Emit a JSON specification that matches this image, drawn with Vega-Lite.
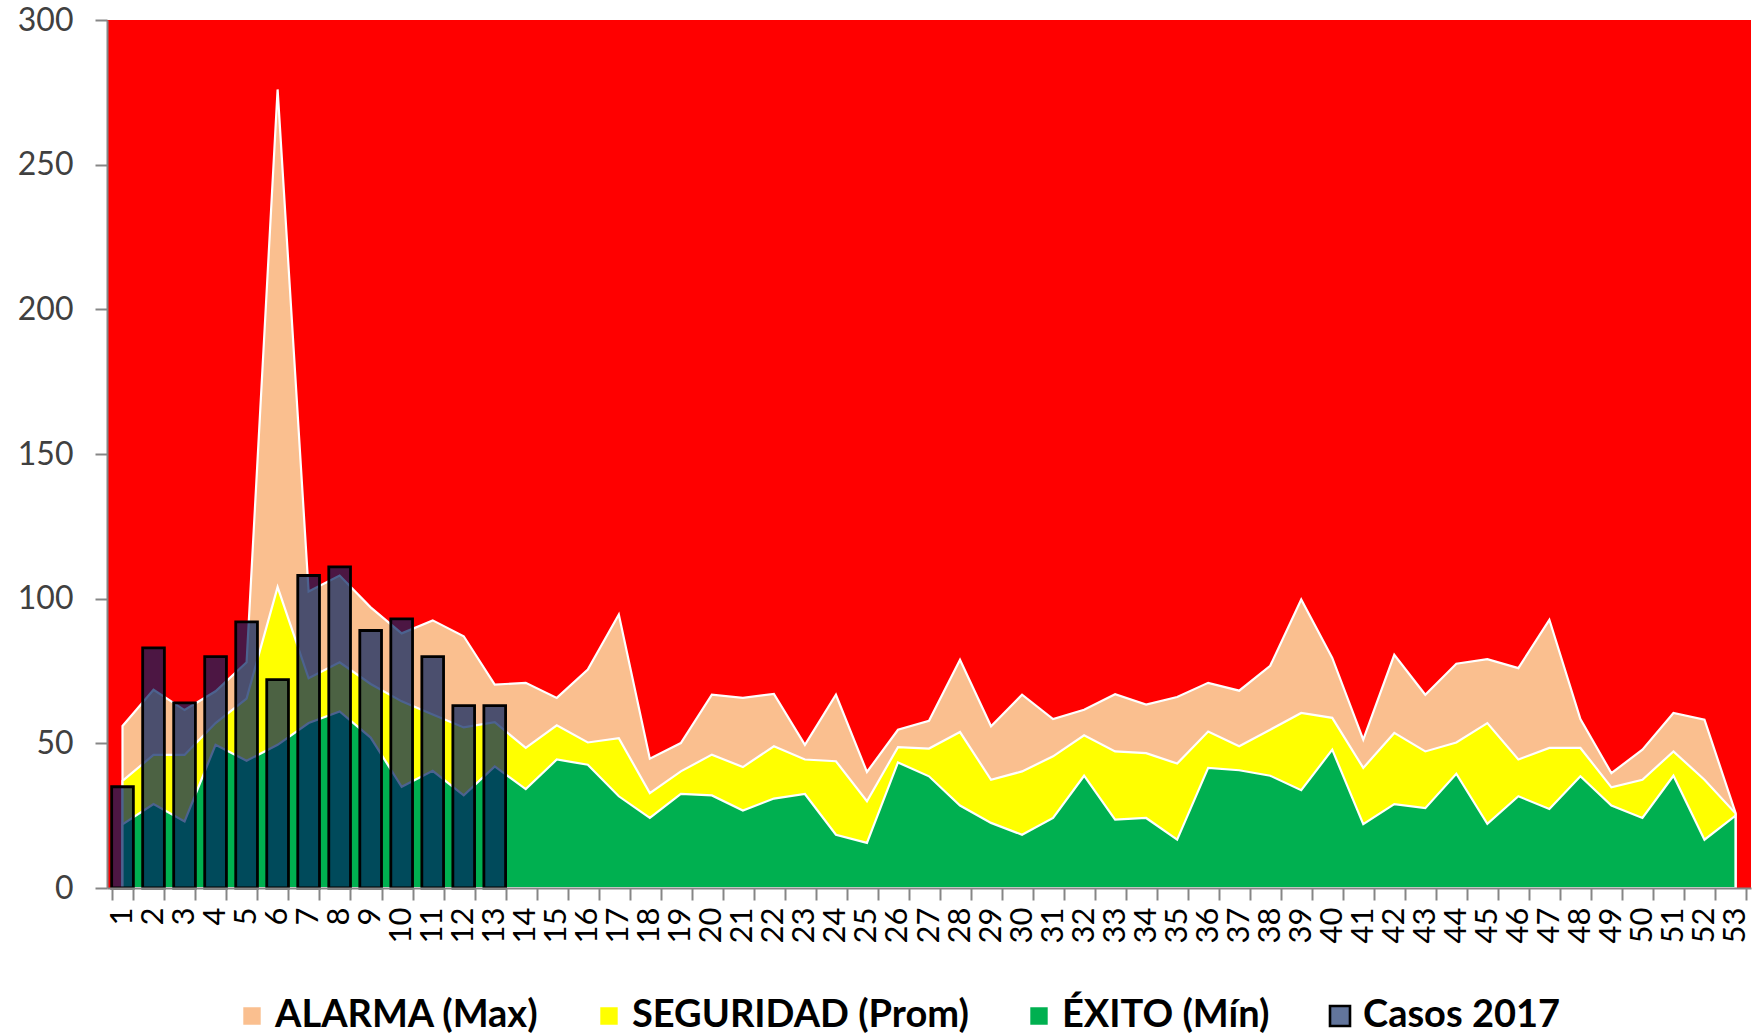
{
  "$schema": "https://vega.github.io/schema/vega-lite/v6.json",
  "autosize": {"type": "none"},
  "padding": {"left": 107, "top": 20, "right": 6, "bottom": 147},
  "width": 1644,
  "height": 868,
  "background": "white",
  "config": {
    "view": {"fill": "#FF0000", "stroke": null},
    "font": "Lato"
  },
  "data": {
    "values": [
      {"semana": 1, "max": 56, "prom": 37, "min": 22, "casos": 35},
      {"semana": 2, "max": 68.5, "prom": 46, "min": 29, "casos": 83},
      {"semana": 3, "max": 61.5, "prom": 46, "min": 23, "casos": 64},
      {"semana": 4, "max": 68, "prom": 57, "min": 49.5, "casos": 80},
      {"semana": 5, "max": 78, "prom": 65.5, "min": 44, "casos": 92},
      {"semana": 6, "max": 276, "prom": 104, "min": 49.5, "casos": 72},
      {"semana": 7, "max": 102.5, "prom": 72.5, "min": 57, "casos": 108},
      {"semana": 8, "max": 108, "prom": 78, "min": 61, "casos": 111},
      {"semana": 9, "max": 97, "prom": 70.5, "min": 52, "casos": 89},
      {"semana": 10, "max": 88, "prom": 64.5, "min": 35, "casos": 93},
      {"semana": 11, "max": 92.5, "prom": 60, "min": 40.5, "casos": 80},
      {"semana": 12, "max": 87, "prom": 55.5, "min": 32, "casos": 63},
      {"semana": 13, "max": 70.3, "prom": 57.3, "min": 42, "casos": 63},
      {"semana": 14, "max": 70.9, "prom": 48.4, "min": 34.2, "casos": null},
      {"semana": 15, "max": 65.7, "prom": 56.2, "min": 44.4, "casos": null},
      {"semana": 16, "max": 75.5, "prom": 50.3, "min": 42.6, "casos": null},
      {"semana": 17, "max": 94.5, "prom": 51.8, "min": 31.7, "casos": null},
      {"semana": 18, "max": 44.7, "prom": 32.8, "min": 24.2, "casos": null},
      {"semana": 19, "max": 50.1, "prom": 40.3, "min": 32.5, "casos": null},
      {"semana": 20, "max": 66.8, "prom": 46.1, "min": 32.0, "casos": null},
      {"semana": 21, "max": 65.7, "prom": 41.8, "min": 26.8, "casos": null},
      {"semana": 22, "max": 67.1, "prom": 49.0, "min": 30.9, "casos": null},
      {"semana": 23, "max": 49.5, "prom": 44.4, "min": 32.5, "casos": null},
      {"semana": 24, "max": 66.8, "prom": 43.8, "min": 18.4, "casos": null},
      {"semana": 25, "max": 40.1, "prom": 30.0, "min": 15.6, "casos": null},
      {"semana": 26, "max": 54.7, "prom": 48.7, "min": 43.4, "casos": null},
      {"semana": 27, "max": 57.8, "prom": 48.2, "min": 38.6, "casos": null},
      {"semana": 28, "max": 78.9, "prom": 53.9, "min": 28.5, "casos": null},
      {"semana": 29, "max": 55.9, "prom": 37.4, "min": 22.5, "casos": null},
      {"semana": 30, "max": 66.8, "prom": 40.3, "min": 18.4, "casos": null},
      {"semana": 31, "max": 58.4, "prom": 45.5, "min": 24.2, "casos": null},
      {"semana": 32, "max": 61.6, "prom": 52.8, "min": 38.8, "casos": null},
      {"semana": 33, "max": 67.0, "prom": 47.2, "min": 23.6, "casos": null},
      {"semana": 34, "max": 63.4, "prom": 46.6, "min": 24.2, "casos": null},
      {"semana": 35, "max": 66.0, "prom": 43.0, "min": 16.7, "casos": null},
      {"semana": 36, "max": 70.9, "prom": 54.1, "min": 41.5, "casos": null},
      {"semana": 37, "max": 68.2, "prom": 49.0, "min": 40.7, "casos": null},
      {"semana": 38, "max": 76.8, "prom": 54.7, "min": 38.8, "casos": null},
      {"semana": 39, "max": 99.7, "prom": 60.5, "min": 33.8, "casos": null},
      {"semana": 40, "max": 79.5, "prom": 58.8, "min": 47.8, "casos": null},
      {"semana": 41, "max": 51.3, "prom": 41.5, "min": 22.1, "casos": null},
      {"semana": 42, "max": 80.6, "prom": 53.6, "min": 29.0, "casos": null},
      {"semana": 43, "max": 66.8, "prom": 47.2, "min": 27.6, "casos": null},
      {"semana": 44, "max": 77.5, "prom": 50.3, "min": 39.5, "casos": null},
      {"semana": 45, "max": 79.1, "prom": 57.0, "min": 22.2, "casos": null},
      {"semana": 46, "max": 76.0, "prom": 44.4, "min": 31.7, "casos": null},
      {"semana": 47, "max": 92.7, "prom": 48.4, "min": 27.3, "casos": null},
      {"semana": 48, "max": 58.4, "prom": 48.4, "min": 38.6, "casos": null},
      {"semana": 49, "max": 39.7, "prom": 34.8, "min": 28.5, "casos": null},
      {"semana": 50, "max": 47.8, "prom": 37.4, "min": 24.2, "casos": null},
      {"semana": 51, "max": 60.5, "prom": 47.2, "min": 38.8, "casos": null},
      {"semana": 52, "max": 58.2, "prom": 37.4, "min": 16.7, "casos": null},
      {"semana": 53, "max": 26, "prom": 25.8, "min": 25, "casos": null}
    ]
  },
  "encoding": {
    "x": {
      "field": "semana",
      "type": "ordinal",
      "scale": {"type": "band", "paddingInner": 0.3, "paddingOuter": 0.15},
      "axis": {
        "title": null,
        "labelAngle": 270,
        "labelFontSize": 31,
        "labelColor": "#000000",
        "labelPadding": 7,
        "tickBand": "extent",
        "tickSize": 12,
        "tickWidth": 2,
        "tickColor": "#868686",
        "domainColor": "#868686",
        "domainWidth": 2,
        "zindex": 1
      }
    }
  },
  "layer": [
    {
      "mark": {"type": "area", "strokeWidth": 2.2, "strokeJoin": "miter"},
      "encoding": {
        "x": {"field": "semana", "type": "ordinal", "bandPosition": 0.5},
        "y": {
          "field": "max",
          "type": "quantitative",
          "stack": null,
          "scale": {"domain": [0, 300], "nice": false},
          "axis": {
            "title": null,
            "values": [0, 50, 100, 150, 200, 250, 300],
            "grid": false,
            "labelFontSize": 32,
            "labelColor": "#404040",
            "labelPadding": 22,
            "tickSize": 12,
            "tickWidth": 2,
            "tickColor": "#868686",
            "domainColor": "#868686",
            "domainWidth": 2,
            "zindex": 1
          }
        },
        "color": {
          "datum": "ALARMA (Max)",
          "scale": {
            "domain": ["ALARMA (Max)", "SEGURIDAD (Prom)", "ÉXITO (Mín)", "Casos 2017"],
            "range": ["#FABF8F", "#FFFF00", "#00B050", "#62759C"]
          },
          "legend": {
            "title": null,
            "orient": "none",
            "legendX": 126,
            "legendY": 977,
            "direction": "horizontal",
            "symbolType": "square",
            "symbolSize": 400,
            "symbolOpacity": 1,
            "symbolStrokeWidth": 2.6,
            "labelFontSize": 38,
            "labelFontWeight": "bold",
            "labelFont": "Lato",
            "labelColor": "#000000",
            "labelOffset": 4,
            "columnPadding": 51,
            "labelLimit": 0
          }
        },
        "stroke": {
          "datum": "ALARMA (Max)",
          "scale": {
            "domain": ["ALARMA (Max)", "SEGURIDAD (Prom)", "ÉXITO (Mín)", "Casos 2017"],
            "range": ["#FFFFFF", "#FFFFFF", "#FFFFFF", "#000000"]
          },
          "legend": null
        }
      }
    },
    {
      "mark": {"type": "area", "strokeWidth": 2.2, "strokeJoin": "miter"},
      "encoding": {
        "x": {"field": "semana", "type": "ordinal", "bandPosition": 0.5},
        "y": {"field": "prom", "type": "quantitative", "stack": null},
        "color": {"datum": "SEGURIDAD (Prom)"},
        "stroke": {"datum": "SEGURIDAD (Prom)"}
      }
    },
    {
      "mark": {"type": "area", "strokeWidth": 2.2, "strokeJoin": "miter"},
      "encoding": {
        "x": {"field": "semana", "type": "ordinal", "bandPosition": 0.5},
        "y": {"field": "min", "type": "quantitative", "stack": null},
        "color": {"datum": "ÉXITO (Mín)"},
        "stroke": {"datum": "ÉXITO (Mín)"}
      }
    },
    {
      "transform": [{"filter": "datum.casos != null"}],
      "mark": {"type": "bar", "fill": "#002060", "fillOpacity": 0.7, "strokeWidth": 2.8},
      "encoding": {
        "x": {"field": "semana", "type": "ordinal"},
        "y": {"field": "casos", "type": "quantitative", "stack": null},
        "stroke": {"datum": "Casos 2017"}
      }
    }
  ]
}
